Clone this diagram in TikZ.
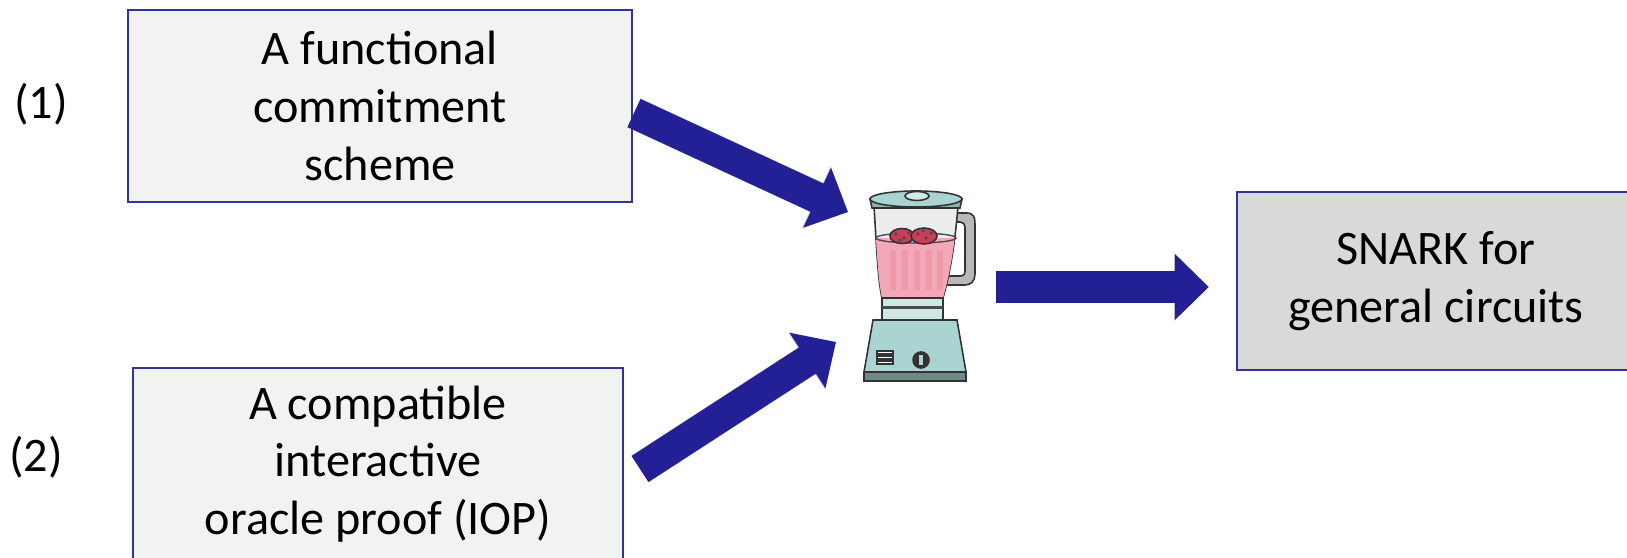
\documentclass[tikz,border=0pt]{standalone}
\usepackage{fontspec}
\setmainfont{Carlito}
\usepackage{tikz}
\usetikzlibrary{arrows.meta,positioning}
\usepackage{xcolor}
\definecolor{boxborder}{RGB}{47,52,150}
\definecolor{boxlight}{RGB}{242,242,242}
\definecolor{boxdark}{RGB}{217,217,217}
\definecolor{arrowblue}{RGB}{34,32,148}
\definecolor{jarteal}{RGB}{170,212,210}
\definecolor{jarpink}{RGB}{243,168,184}
\definecolor{berryred}{RGB}{205,60,85}

\begin{document}
\begin{tikzpicture}[x=0.01cm,y=-0.01cm,
    txt/.style={font=\fontsize{13.7}{16.4}\selectfont},
    box/.style={txt,draw=boxborder,line width=0.6pt,inner sep=0pt,align=center},
    bigarrow/.style={arrowblue,line width=0.31cm,
      -{Triangle[length=0.34cm,width=0.64cm]}},
    arrowshadow/.style={black,opacity=0.2,line width=0.32cm,
      -{Triangle[length=0.35cm,width=0.66cm]}},
    outl/.style={draw=black!80,line width=0.45pt}]
    \useasboundingbox (0,0) rectangle (1627,558);
    \clip (0,0) rectangle (1627,558);
    % the two ingredients and the result
    \node[box,fill=boxlight,minimum width=5.04cm,minimum height=1.92cm]
      (fcs) at (380,106) {A functional\\commitment\\scheme};
    \node[box,fill=boxlight,minimum width=4.9cm,minimum height=1.92cm]
      (iop) at (378,464) {A compatible\\interactive\\oracle proof (IOP)};
    \node[box,fill=boxdark,minimum width=3.98cm,minimum height=1.78cm]
      (snark) at (1436,281) {SNARK for\\general circuits};
    \node[txt] (lab1) at (41,104) {(1)};
    \node[txt] (lab2) at (36,457) {(2)};
    % Blender
    \node[minimum width=1.16cm,minimum height=1.94cm,inner sep=0pt] (blender) at (917,287) {};
    \filldraw[outl,fill=black!28] (950,213) -- (967,213)
      .. controls (974,213) and (975,218) .. (975,224) -- (975,274)
      .. controls (975,281) and (971,285) .. (965,285) -- (944,285) -- (944,276)
      -- (961,276) .. controls (964,276) and (965,274) .. (965,271) -- (965,227)
      .. controls (965,224) and (963,222) .. (960,222) -- (950,222) -- cycle;
    \filldraw[outl,fill=black!7] (874,206) -- (958,206)
      .. controls (954,255) and (948,280) .. (943,298) -- (882,298)
      .. controls (878,280) and (877,255) .. (874,206) -- cycle;
    \begin{scope}
      \clip (874,206) -- (958,206)
        .. controls (954,255) and (948,280) .. (943,298) -- (882,298)
        .. controls (878,280) and (877,255) .. (874,206) -- cycle;
      \fill[jarpink] (860,238) rectangle (980,300);
      \foreach \sx in {893,905,917,929,940}{
        \draw[berryred,opacity=0.12,line width=1.5pt] (\sx,250) -- (\sx,290);
      }
    \end{scope}
    \draw[black!70,line width=0.4pt] (916,238) ellipse [x radius=0.4cm,y radius=0.05cm];
    \filldraw[outl,fill=berryred] (902,236) ellipse [x radius=0.12cm,y radius=0.075cm];
    \filldraw[outl,fill=berryred] (924,236) ellipse [x radius=0.13cm,y radius=0.08cm];
    \foreach \dx/\dy in {896/234,904/238,909/233,918/234,926/238,931/233,923/231,900/240}{
      \fill[black!70] (\dx,\dy) circle (0.55pt);
    }
    % lid
    \filldraw[outl,fill=jarteal!85!black] (870,199) -- (962,199) -- (960,208) -- (872,208) -- cycle;
    \filldraw[outl,fill=jarteal] (916,199) ellipse [x radius=0.46cm,y radius=0.08cm];
    \filldraw[outl,fill=jarteal!50] (917,196) ellipse [x radius=0.12cm,y radius=0.045cm];
    % collar and base
    \filldraw[outl,fill=jarteal!55] (882,298) rectangle (943,320);
    \fill[black!70] (882,306) rectangle (943,309);
    \filldraw[outl,fill=jarteal] (873,320) -- (957,320) -- (966,372) -- (864,372) -- cycle;
    \filldraw[outl,fill=jarteal!65!black] (864,372) rectangle (966,381);
    \foreach \by in {351,356,361}{
      \filldraw[outl,fill=white] (877,\by) rectangle (893,\by+3);
    }
    \filldraw[outl,fill=black!80] (921,360) circle (0.08cm);
    \draw[jarteal,line width=1pt] (921,355) -- (921,365);
    % Flechas hacia la licuadora
    \coordinate (fcs out) at (634,113);
    \coordinate (mix in1) at (848,212);
    \coordinate (iop out) at (640,469);
    \coordinate (mix in2) at (836,342);
    \begin{scope}[shift={(2,4)}]
      \draw[arrowshadow] (fcs out) -- (mix in1);
      \draw[arrowshadow] (iop out) -- (mix in2);
      \draw[arrowshadow,shorten <=0.2cm,shorten >=0.27cm]
        (blender.east) -- (blender.east -| snark.west);
    \end{scope}
    \draw[bigarrow] (fcs out) -- (mix in1);
    \draw[bigarrow] (iop out) -- (mix in2);
    \draw[bigarrow,shorten <=0.2cm,shorten >=0.27cm]
      (blender.east) -- (blender.east -| snark.west);
  \end{tikzpicture}
\end{document}
